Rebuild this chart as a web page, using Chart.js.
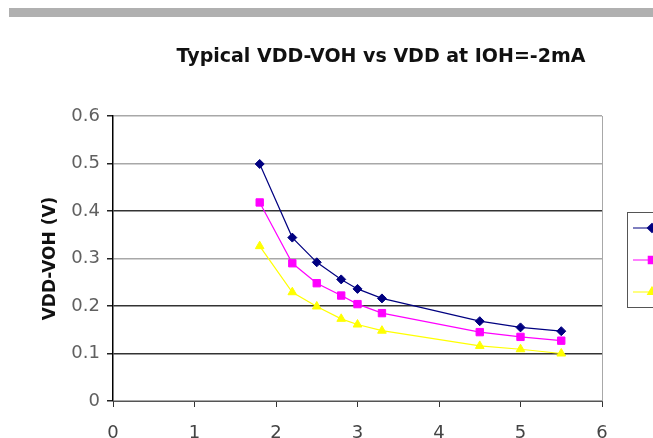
<!DOCTYPE html>
<html>
<head>
<meta charset="utf-8">
<script src="https://cdn.jsdelivr.net/npm/chart.js@4.4.0/dist/chart.umd.min.js"></script>
<style>
  html, body { margin: 0; padding: 0; background: #fff; overflow: hidden; width: 653px; height: 438px; }
  #band { position: absolute; left: 9px; top: 8px; width: 644px; height: 9px; background: #b0b0b0; }
  #wrap { position: absolute; left: 0; top: 0; width: 700px; height: 460px; }
</style>
</head>
<body>
<div id="band"></div>
<div id="wrap"><canvas id="c" width="700" height="460"></canvas></div>
<script>
// values
const vdd = [1.8, 2.2, 2.5, 2.8, 3.0, 3.3, 4.5, 5.0, 5.5];
const seriesA = [0.499, 0.344, 0.292, 0.256, 0.236, 0.216, 0.168, 0.155, 0.147];
const seriesB = [0.418, 0.290, 0.248, 0.222, 0.204, 0.185, 0.145, 0.135, 0.127];
const seriesC = [0.326, 0.229, 0.199, 0.173, 0.161, 0.148, 0.116, 0.109, 0.100];
const seriesNames = ['Series1', 'Series2', 'Series3'];
const darkGridValues = [0.1, 0.2, 0.4];

const TITLE = 'Typical VDD-VOH vs VDD at IOH=-2mA';
const Y_TITLE = 'VDD-VOH (V)';

function pts(ys) {
    return vdd.map((x, i) => ({ x: x, y: ys[i] }));
}

function series(name, ys, color, style, radius) {
    return {
        label: name,
        data: pts(ys),
        borderColor: color,
        backgroundColor: color,
        borderWidth: 1.2,
        pointStyle: style,
        pointRadius: radius,
        pointBorderWidth: 1,
        pointHoverRadius: radius,
        tension: 0
    };
}

// titles, right border and the (clipped) legend box
const decor = {
    id: 'decor',
    afterDraw(chart) {
        const ctx = chart.ctx;
        const a = chart.chartArea;
        ctx.save();

        // right edge of the plot
        ctx.strokeStyle = '#a8a8a8';
        ctx.lineWidth = 1;
        ctx.beginPath();
        ctx.moveTo(a.right + 0.5, a.top);
        ctx.lineTo(a.right + 0.5, a.bottom);
        ctx.stroke();

        // chart title
        ctx.fillStyle = '#111';
        ctx.font = 'bold 19px "DejaVu Sans"';
        ctx.textAlign = 'center';
        ctx.textBaseline = 'alphabetic';
        ctx.fillText(TITLE, 381, 62);

        // y axis title, rotated
        ctx.save();
        ctx.translate(51, (a.top + a.bottom) / 2);
        ctx.rotate(-Math.PI / 2);
        ctx.font = 'bold 17px "DejaVu Sans"';
        ctx.textBaseline = 'middle';
        ctx.fillText(Y_TITLE, 0, 0);
        ctx.restore();

        // legend
        const lx = 627, ly = 212, lh = 95;
        ctx.strokeStyle = '#555';
        ctx.lineWidth = 1;
        ctx.strokeRect(lx + 0.5, ly + 0.5, 90, lh);
        chart.data.datasets.forEach((ds, i) => {
            const y = ly + 16 + i * 32;
            ctx.strokeStyle = ds.borderColor;
            ctx.fillStyle = ds.backgroundColor;
            ctx.lineWidth = 1.2;
            ctx.beginPath();
            ctx.moveTo(lx + 6, y);
            ctx.lineTo(lx + 44, y);
            ctx.stroke();
            Chart.helpers.drawPoint(ctx, {
                pointStyle: ds.pointStyle, radius: ds.pointRadius, rotation: 0, borderWidth: 1
            }, lx + 25, y);
            ctx.fillStyle = '#000';
            ctx.font = '14px "DejaVu Sans"';
            ctx.textAlign = 'left';
            ctx.textBaseline = 'middle';
            ctx.fillText(ds.label, lx + 50, y);
        });
        ctx.restore();
    }
};

new Chart(document.getElementById('c'), {
    type: 'line',
    data: {
        datasets: [
            series(seriesNames[0], seriesA, '#000080', 'rectRot', 4.5),
            series(seriesNames[1], seriesB, '#ff00ff', 'rect', 5.2),
            series(seriesNames[2], seriesC, '#ffff00', 'triangle', 5)
        ]
    },
    options: {
        responsive: false,
        animation: false,
        devicePixelRatio: 1,
        layout: { padding: { top: 116, right: 98, left: 0, bottom: 0 } },
        plugins: {
            legend: { display: false },
            title: { display: false },
            tooltip: { enabled: false }
        },
        scales: {
            x: {
                type: 'linear',
                min: 0,
                max: 6,
                afterFit(s) { s.height = 59; },
                ticks: {
                    stepSize: 1,
                    padding: 16,
                    color: '#444',
                    font: { family: '"DejaVu Sans"', size: 18 }
                },
                grid: {
                    drawOnChartArea: false,
                    drawTicks: true,
                    tickLength: 6,
                    tickColor: '#333'
                },
                border: { color: '#555', width: 1 }
            },
            y: {
                min: 0,
                max: 0.6,
                afterFit(s) { s.width = 113; },
                ticks: {
                    stepSize: 0.1,
                    padding: 7,
                    color: '#606060',
                    font: { family: '"DejaVu Sans"', size: 18 },
                    callback: v => String(+v.toFixed(1))
                },
                grid: {
                    tickLength: 6,
                    tickColor: '#222',
                    lineWidth: 1.5,
                    color: c => darkGridValues.some(d => Math.abs(d - c.tick.value) < 1e-6) ? '#333' : '#a8a8a8'
                },
                border: { color: '#000', width: 1.5 }
            }
        }
    },
    plugins: [decor]
});
</script>
</body>
</html>
